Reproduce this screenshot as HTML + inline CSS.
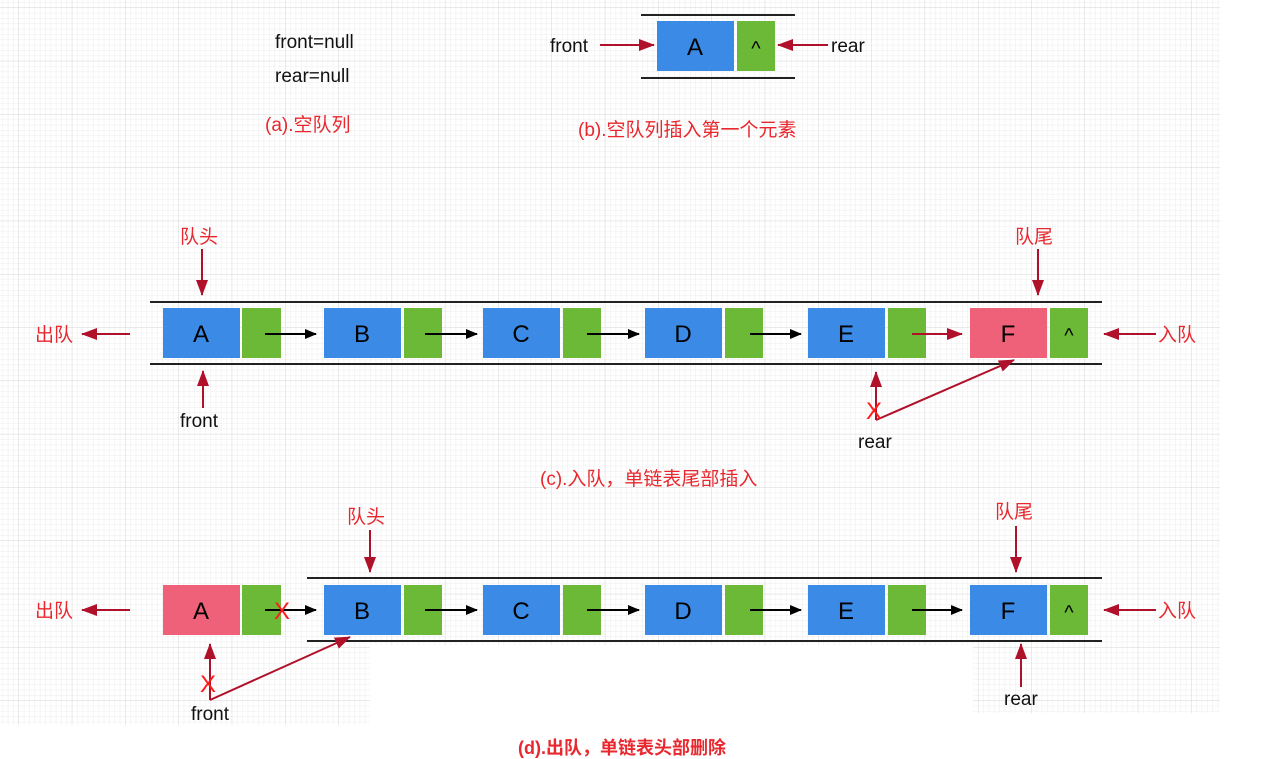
<!DOCTYPE html>
<html><head><meta charset="utf-8"><style>
html,body{margin:0;padding:0;background:#fff}
svg{display:block}
text{font-family:"Liberation Sans","Noto Sans CJK SC",sans-serif}
.r{fill:#e8282e;font-size:19px}
.k{fill:#111;font-size:19px}
.b{fill:#000;font-size:24px;text-anchor:middle}
</style></head><body>
<svg width="1279" height="759" viewBox="0 0 1279 759" xmlns="http://www.w3.org/2000/svg">
<defs>
<pattern id="minor" width="5.33" height="5.33" patternUnits="userSpaceOnUse"><path d="M5.33 0V5.33H0" fill="none" stroke="#ececec" stroke-width="1"/></pattern>
<pattern id="major" x="19" y="8" width="53.3" height="53.3" patternUnits="userSpaceOnUse"><rect width="53.3" height="53.3" fill="url(#minor)"/><path d="M53.3 0V53.3H0" fill="none" stroke="#d4d4d4" stroke-width="1"/></pattern>
<marker id="ar" markerWidth="10" markerHeight="8" refX="9" refY="4" orient="auto" markerUnits="userSpaceOnUse"><path d="M0 0L10 4L0 8z" fill="#b0102a"/></marker>
<marker id="ab" markerWidth="12" markerHeight="10" refX="11" refY="5" orient="auto" markerUnits="userSpaceOnUse"><path d="M0 0L12 5L0 10z" fill="#000"/></marker>
<marker id="ar2" markerWidth="16" markerHeight="12" refX="15" refY="6" orient="auto" markerUnits="userSpaceOnUse"><path d="M0 0L16 6L0 12z" fill="#b0102a"/></marker>
</defs>
<rect x="0" y="0" width="1220" height="645" fill="url(#major)"/>
<rect x="0" y="645" width="370" height="80" fill="url(#major)"/>
<rect x="973" y="645" width="247" height="68" fill="url(#major)"/>

<!-- (a) -->
<text class="k" x="275" y="48">front=null</text>
<text class="k" x="275" y="82">rear=null</text>
<text class="r" x="265" y="131">(a).空队列</text>

<!-- (b) -->
<line x1="641" y1="15" x2="795" y2="15" stroke="#222" stroke-width="2"/>
<line x1="641" y1="78" x2="795" y2="78" stroke="#222" stroke-width="2"/>
<rect x="657" y="21" width="77" height="50" fill="#3a8ae6"/>
<rect x="737" y="21" width="38" height="50" fill="#6bb936"/>
<text class="b" x="695" y="55">A</text>
<text class="b" x="756" y="55" style="font-size:20px">^</text>
<text class="k" x="550" y="52">front</text>
<line x1="600" y1="45" x2="654" y2="45" stroke="#b0102a" stroke-width="2" marker-end="url(#ar2)"/>
<line x1="828" y1="45" x2="778" y2="45" stroke="#b0102a" stroke-width="2" marker-end="url(#ar2)"/>
<text class="k" x="831" y="52">rear</text>
<text class="r" x="578" y="136">(b).空队列插入第一个元素</text>

<!-- (c) -->
<line x1="150" y1="302" x2="1102" y2="302" stroke="#222" stroke-width="2"/>
<line x1="150" y1="364" x2="1102" y2="364" stroke="#222" stroke-width="2"/>
<g>
<rect x="163" y="308" width="77" height="50" fill="#3a8ae6"/><rect x="242" y="308" width="39" height="50" fill="#6bb936"/>
<rect x="324" y="308" width="77" height="50" fill="#3a8ae6"/><rect x="404" y="308" width="38" height="50" fill="#6bb936"/>
<rect x="483" y="308" width="77" height="50" fill="#3a8ae6"/><rect x="563" y="308" width="38" height="50" fill="#6bb936"/>
<rect x="645" y="308" width="77" height="50" fill="#3a8ae6"/><rect x="725" y="308" width="38" height="50" fill="#6bb936"/>
<rect x="808" y="308" width="77" height="50" fill="#3a8ae6"/><rect x="888" y="308" width="38" height="50" fill="#6bb936"/>
<rect x="970" y="308" width="77" height="50" fill="#ef6079"/><rect x="1050" y="308" width="38" height="50" fill="#6bb936"/>
</g>
<text class="b" x="201" y="342">A</text><text class="b" x="362" y="342">B</text><text class="b" x="521" y="342">C</text>
<text class="b" x="683" y="342">D</text><text class="b" x="846" y="342">E</text><text class="b" x="1008" y="342">F</text>
<text class="b" x="1069" y="342" style="font-size:20px">^</text>
<line x1="265" y1="334" x2="316" y2="334" stroke="#000" stroke-width="2" marker-end="url(#ab)"/>
<line x1="425" y1="334" x2="477" y2="334" stroke="#000" stroke-width="2" marker-end="url(#ab)"/>
<line x1="587" y1="334" x2="639" y2="334" stroke="#000" stroke-width="2" marker-end="url(#ab)"/>
<line x1="750" y1="334" x2="801" y2="334" stroke="#000" stroke-width="2" marker-end="url(#ab)"/>
<line x1="912" y1="334" x2="962" y2="334" stroke="#b0102a" stroke-width="2" marker-end="url(#ar2)"/>
<text class="r" x="180" y="243">队头</text>
<line x1="202" y1="249" x2="202" y2="295" stroke="#b0102a" stroke-width="2" marker-end="url(#ar2)"/>
<text class="r" x="1015" y="243">队尾</text>
<line x1="1038" y1="249" x2="1038" y2="295" stroke="#b0102a" stroke-width="2" marker-end="url(#ar2)"/>
<text class="r" x="35" y="341">出队</text>
<line x1="130" y1="334" x2="82" y2="334" stroke="#b0102a" stroke-width="2" marker-end="url(#ar2)"/>
<line x1="1156" y1="334" x2="1104" y2="334" stroke="#b0102a" stroke-width="2" marker-end="url(#ar2)"/>
<text class="r" x="1158" y="341">入队</text>
<line x1="203" y1="408" x2="203" y2="371" stroke="#b0102a" stroke-width="2" marker-end="url(#ar2)"/>
<text class="k" x="180" y="427">front</text>
<line x1="876" y1="420" x2="876" y2="372" stroke="#b0102a" stroke-width="2" marker-end="url(#ar2)"/>
<line x1="876" y1="420" x2="1014" y2="360" stroke="#b0102a" stroke-width="2" marker-end="url(#ar2)"/>
<text x="866" y="419" fill="#ff1a1a" style="font-size:24px">X</text>
<text class="k" x="858" y="448">rear</text>
<text class="r" x="540" y="485">(c).入队，单链表尾部插入</text>

<!-- (d) -->
<line x1="307" y1="578" x2="1102" y2="578" stroke="#222" stroke-width="2"/>
<line x1="307" y1="641" x2="1102" y2="641" stroke="#222" stroke-width="2"/>
<rect x="163" y="585" width="77" height="50" fill="#ef6079"/><rect x="242" y="585" width="39" height="50" fill="#6bb936"/>
<rect x="324" y="585" width="77" height="50" fill="#3a8ae6"/><rect x="404" y="585" width="38" height="50" fill="#6bb936"/>
<rect x="483" y="585" width="77" height="50" fill="#3a8ae6"/><rect x="563" y="585" width="38" height="50" fill="#6bb936"/>
<rect x="645" y="585" width="77" height="50" fill="#3a8ae6"/><rect x="725" y="585" width="38" height="50" fill="#6bb936"/>
<rect x="808" y="585" width="77" height="50" fill="#3a8ae6"/><rect x="888" y="585" width="38" height="50" fill="#6bb936"/>
<rect x="970" y="585" width="77" height="50" fill="#3a8ae6"/><rect x="1050" y="585" width="38" height="50" fill="#6bb936"/>
<text class="b" x="201" y="619">A</text><text class="b" x="362" y="619">B</text><text class="b" x="521" y="619">C</text>
<text class="b" x="683" y="619">D</text><text class="b" x="846" y="619">E</text><text class="b" x="1008" y="619">F</text>
<text class="b" x="1069" y="619" style="font-size:20px">^</text>
<line x1="265" y1="610" x2="316" y2="610" stroke="#000" stroke-width="2" marker-end="url(#ab)"/>
<text x="274" y="619" fill="#ff1a1a" style="font-size:24px">X</text>
<line x1="425" y1="610" x2="477" y2="610" stroke="#000" stroke-width="2" marker-end="url(#ab)"/>
<line x1="587" y1="610" x2="639" y2="610" stroke="#000" stroke-width="2" marker-end="url(#ab)"/>
<line x1="750" y1="610" x2="801" y2="610" stroke="#000" stroke-width="2" marker-end="url(#ab)"/>
<line x1="912" y1="610" x2="962" y2="610" stroke="#000" stroke-width="2" marker-end="url(#ab)"/>
<text class="r" x="347" y="523">队头</text>
<line x1="370" y1="530" x2="370" y2="572" stroke="#b0102a" stroke-width="2" marker-end="url(#ar2)"/>
<text class="r" x="995" y="518">队尾</text>
<line x1="1016" y1="526" x2="1016" y2="572" stroke="#b0102a" stroke-width="2" marker-end="url(#ar2)"/>
<text class="r" x="35" y="617">出队</text>
<line x1="130" y1="610" x2="82" y2="610" stroke="#b0102a" stroke-width="2" marker-end="url(#ar2)"/>
<line x1="1156" y1="610" x2="1104" y2="610" stroke="#b0102a" stroke-width="2" marker-end="url(#ar2)"/>
<text class="r" x="1158" y="617">入队</text>
<line x1="210" y1="700" x2="210" y2="644" stroke="#b0102a" stroke-width="2" marker-end="url(#ar2)"/>
<line x1="210" y1="700" x2="350" y2="637" stroke="#b0102a" stroke-width="2" marker-end="url(#ar2)"/>
<text x="200" y="692" fill="#ff1a1a" style="font-size:24px">X</text>
<text class="k" x="191" y="720">front</text>
<line x1="1021" y1="687" x2="1021" y2="644" stroke="#b0102a" stroke-width="2" marker-end="url(#ar2)"/>
<text class="k" x="1004" y="705">rear</text>
<text x="518" y="754" fill="#e8282e" style="font-size:18px;font-weight:bold">(d).出队，单链表头部删除</text>
</svg>
</body></html>
